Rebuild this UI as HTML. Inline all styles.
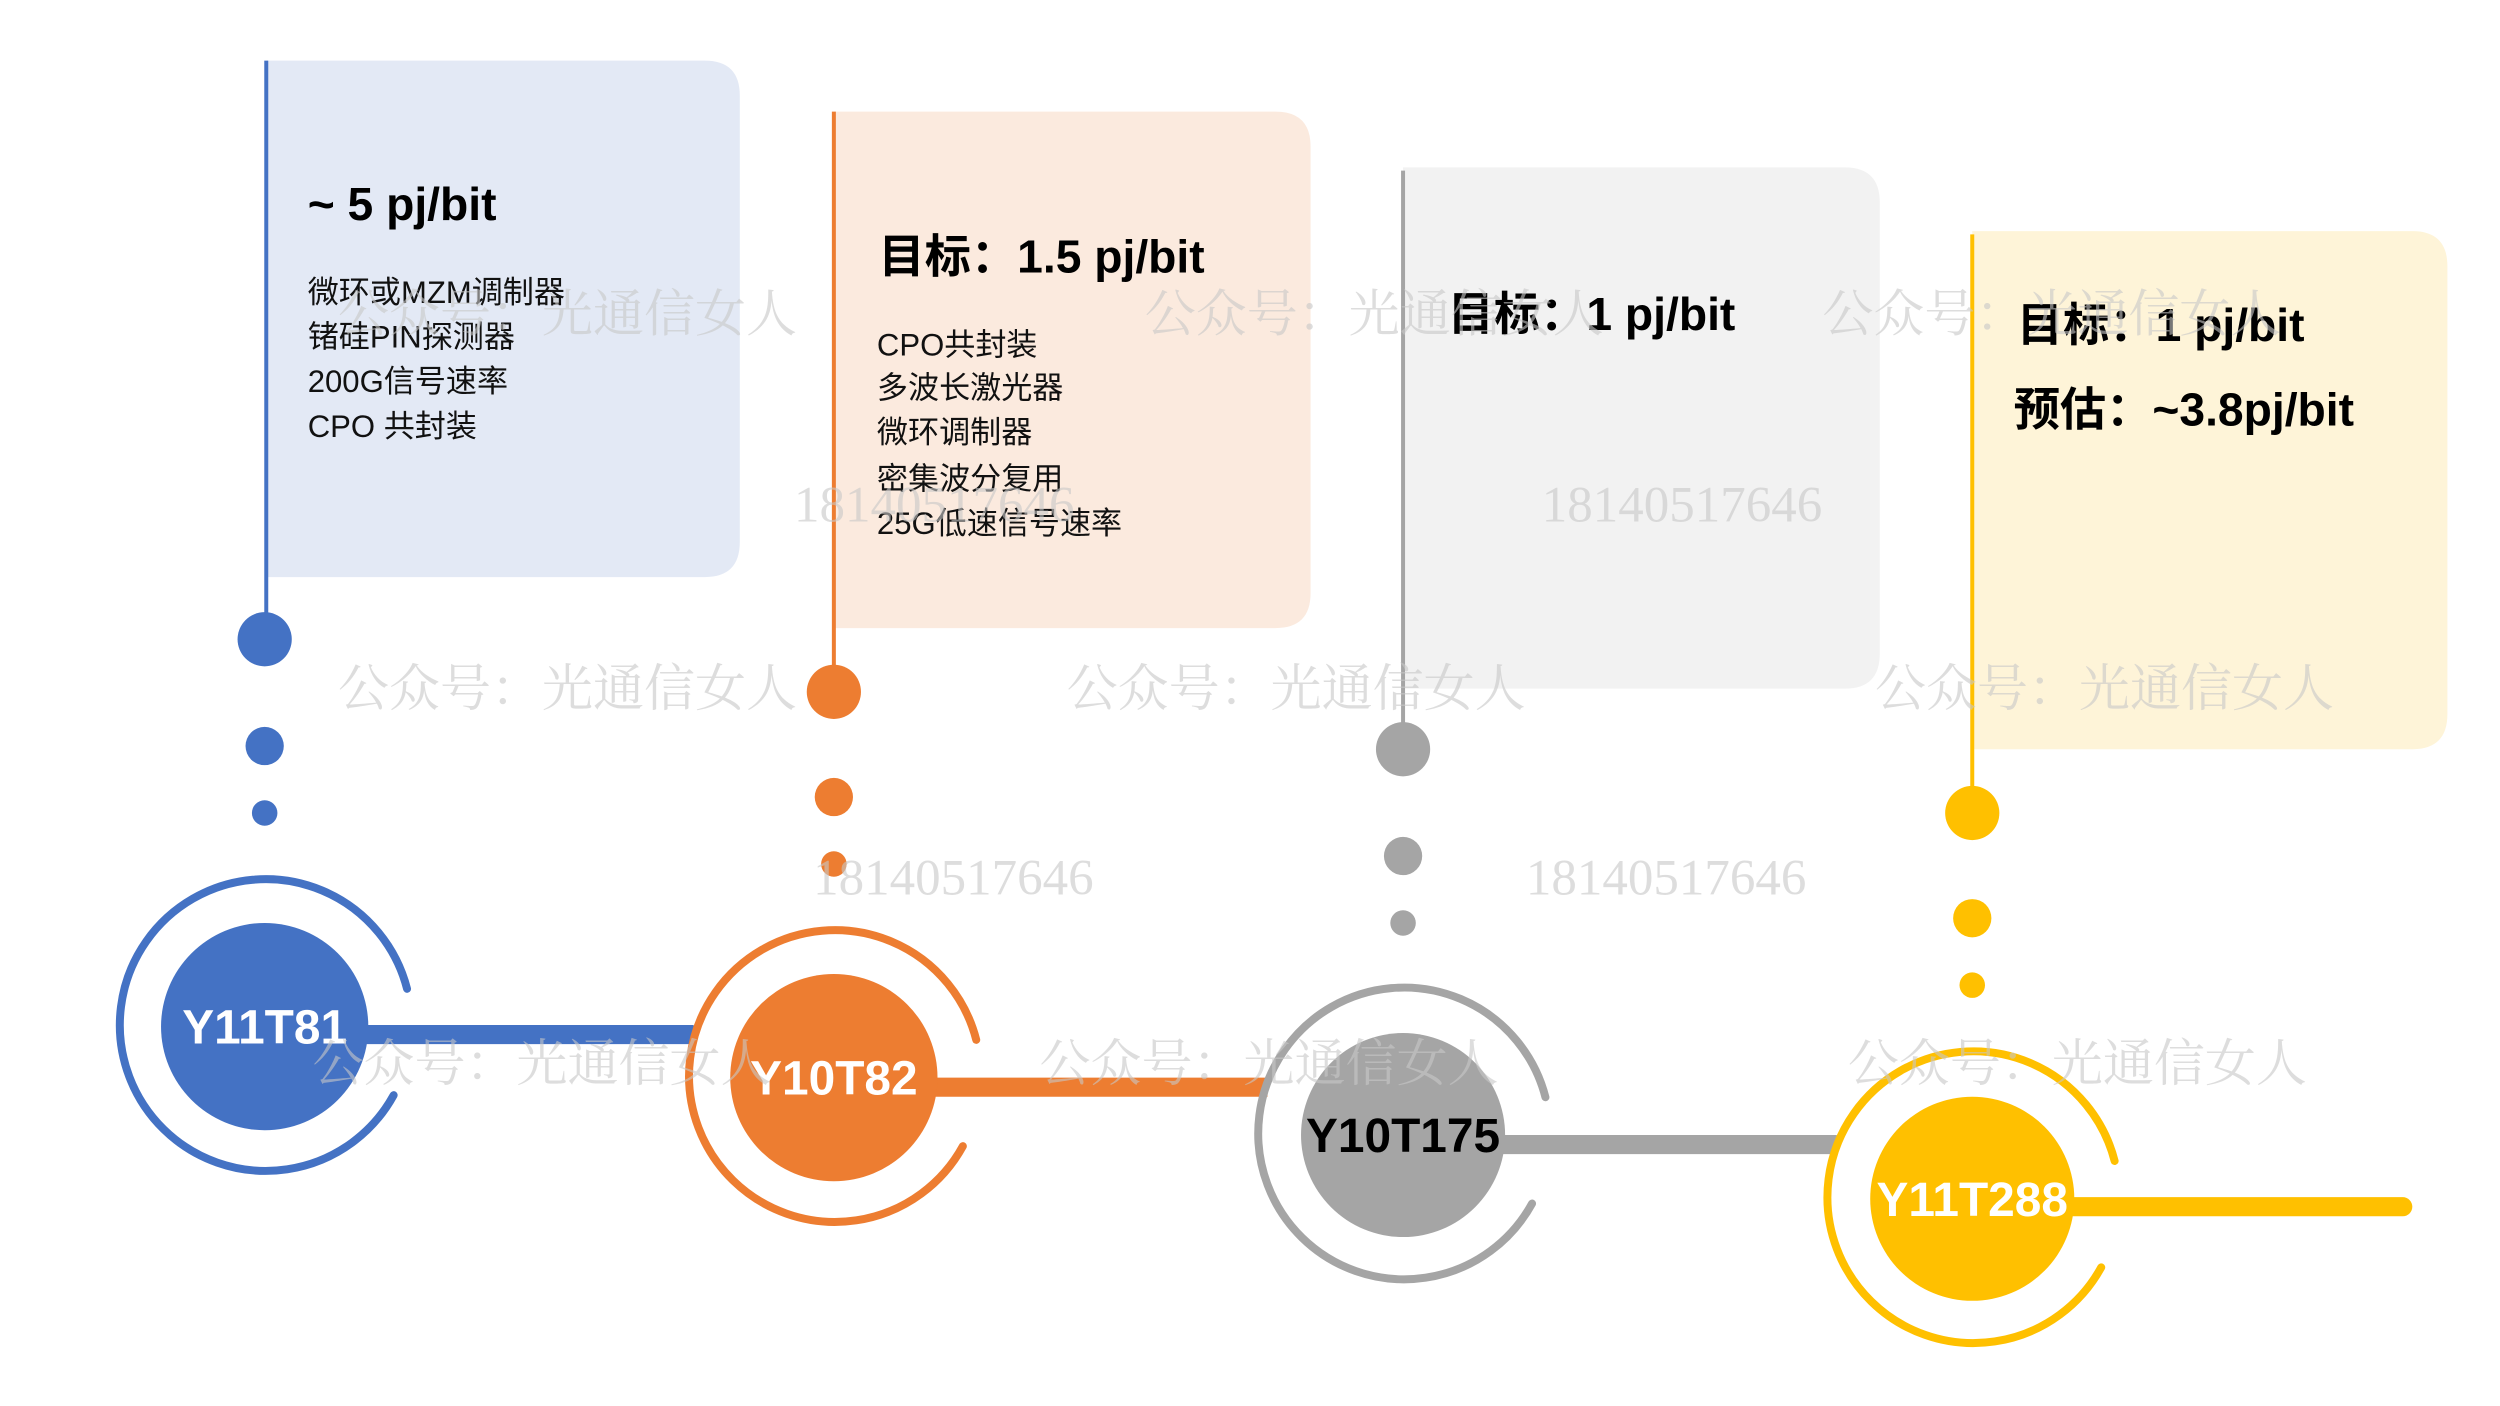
<!DOCTYPE html>
<html><head><meta charset="utf-8"><style>
html,body{margin:0;padding:0;background:#fff;width:2500px;height:1406px;overflow:hidden}
svg{display:block}
.t{font-family:"Liberation Sans","Noto Sans CJK SC",sans-serif;font-weight:bold;font-size:29px;fill:#000}
.l{font-family:"Liberation Sans","Noto Sans CJK SC",sans-serif;font-size:19.5px;fill:#111}
.n{font-family:"Liberation Sans","Noto Sans CJK SC",sans-serif;font-weight:bold;font-size:30px;text-anchor:middle;dominant-baseline:central}
.w{font-family:"Liberation Serif","Noto Serif CJK SC",serif;font-size:32px;fill:#c8c8c8;opacity:.6;dominant-baseline:central}
</style></head><body>
<svg width="2500" height="1406" viewBox="0 0 1568 882" preserveAspectRatio="none">
<path d="M167 38 H442 Q464 38 464 60 V340 Q464 362 442 362 H167 Z" fill="#e3e9f5"/>
<path d="M523 70 H800 Q822 70 822 92 V372 Q822 394 800 394 H523 Z" fill="#fbeade"/>
<path d="M880 105 H1157 Q1179 105 1179 127 V410 Q1179 432 1157 432 H880 Z" fill="#f2f2f2"/>
<path d="M1237 145 H1513 Q1535 145 1535 167 V448 Q1535 470 1513 470 H1237 Z" fill="#fef4d8"/>
<line x1="167" y1="38" x2="167" y2="395" stroke="#4472c4" stroke-width="2.5"/>
<line x1="523" y1="70" x2="523" y2="425" stroke="#ed7d31" stroke-width="2.5"/>
<line x1="880" y1="107" x2="880" y2="460" stroke="#a5a5a5" stroke-width="2.5"/>
<line x1="1237" y1="147" x2="1237" y2="500" stroke="#ffc000" stroke-width="2.5"/>
<g fill="#4472c4"><circle cx="166" cy="401" r="17"/><circle cx="166" cy="468" r="12"/><circle cx="166" cy="510" r="8"/></g>
<g fill="#ed7d31"><circle cx="523" cy="434" r="17"/><circle cx="523" cy="500" r="12"/><circle cx="523" cy="542" r="8"/></g>
<g fill="#a5a5a5"><circle cx="880" cy="470" r="17"/><circle cx="880" cy="537" r="12"/><circle cx="880" cy="579" r="8"/></g>
<g fill="#ffc000"><circle cx="1237" cy="510" r="17"/><circle cx="1237" cy="576" r="12"/><circle cx="1237" cy="618" r="8"/></g>
<line x1="200" y1="649" x2="435" y2="649" stroke="#4472c4" stroke-width="12"/>
<line x1="560" y1="682" x2="795" y2="682" stroke="#ed7d31" stroke-width="12"/>
<line x1="915" y1="718" x2="1152" y2="718" stroke="#a5a5a5" stroke-width="12"/>
<line x1="1270" y1="757" x2="1507" y2="757" stroke="#ffc000" stroke-width="12" stroke-linecap="round"/>
<g fill="none" stroke-width="5" stroke-linecap="round">
<path d="M166 644 m80.9 43 A91.5 91.5 0 1 1 255.3 620.3" stroke="#4472c4"/>
<path d="M523 676 m80.9 43 A91.5 91.5 0 1 1 612.3 652.3" stroke="#ed7d31"/>
<path d="M880 712 m80.9 43 A91.5 91.5 0 1 1 969.3 688.3" stroke="#a5a5a5"/>
<path d="M1237 752 m80.9 43 A91.5 91.5 0 1 1 1326.3 728.3" stroke="#ffc000"/>
</g>
<circle cx="166" cy="644" r="65" fill="#4472c4"/>
<circle cx="523" cy="676" r="65" fill="#ed7d31"/>
<circle cx="880" cy="712" r="64" fill="#a5a5a5"/>
<circle cx="1237" cy="752" r="64" fill="#ffc000"/>
<text class="n" x="166" y="645" fill="#fff">Y11T81</text>
<text class="n" x="523" y="677" fill="#fff">Y10T82</text>
<text class="n" x="880" y="713" fill="#000">Y10T175</text>
<text class="n" x="1237" y="753" fill="#fff">Y11T288</text>
<text class="t" x="193" y="138">~ 5 pj/bit</text>
<text class="l" x="193" y="190">微环或MZM调制器</text>
<text class="l" x="193" y="218">锗硅PIN探测器</text>
<text class="l" x="193" y="246">200G信号速率</text>
<text class="l" x="193" y="274">CPO 共封装</text>
<text class="t" x="551" y="171">目标：1.5 pj/bit</text>
<text class="l" x="550" y="223">CPO共封装</text>
<text class="l" x="550" y="250">多波长激光器</text>
<text class="l" x="550" y="278">微环调制器</text>
<text class="l" x="550" y="307">密集波分复用</text>
<text class="l" x="550" y="335">25G低速信号速率</text>
<text class="t" x="908" y="207">目标：1 pj/bit</text>
<text class="t" x="1265" y="214">目标：1 pj/bit</text>
<text class="t" x="1263" y="267">预估：~3.8pj/bit</text>
<g>
<text class="w" x="212" y="198">公众号：光通信女人</text>
<text class="w" x="718" y="198">公众号：光通信女人</text>
<text class="w" x="1143" y="198">公众号：光通信女人</text>
<text class="w" x="498" y="317">18140517646</text>
<text class="w" x="967" y="317">18140517646</text>
<text class="w" x="212" y="433">公众号：光通信女人</text>
<text class="w" x="669" y="433">公众号：光通信女人</text>
<text class="w" x="1176" y="433">公众号：光通信女人</text>
<text class="w" x="510" y="551">18140517646</text>
<text class="w" x="957" y="551">18140517646</text>
<text class="w" x="196" y="668">公众号：光通信女人</text>
<text class="w" x="652" y="668">公众号：光通信女人</text>
<text class="w" x="1159" y="668">公众号：光通信女人</text>
</g>
</svg>
</body></html>
